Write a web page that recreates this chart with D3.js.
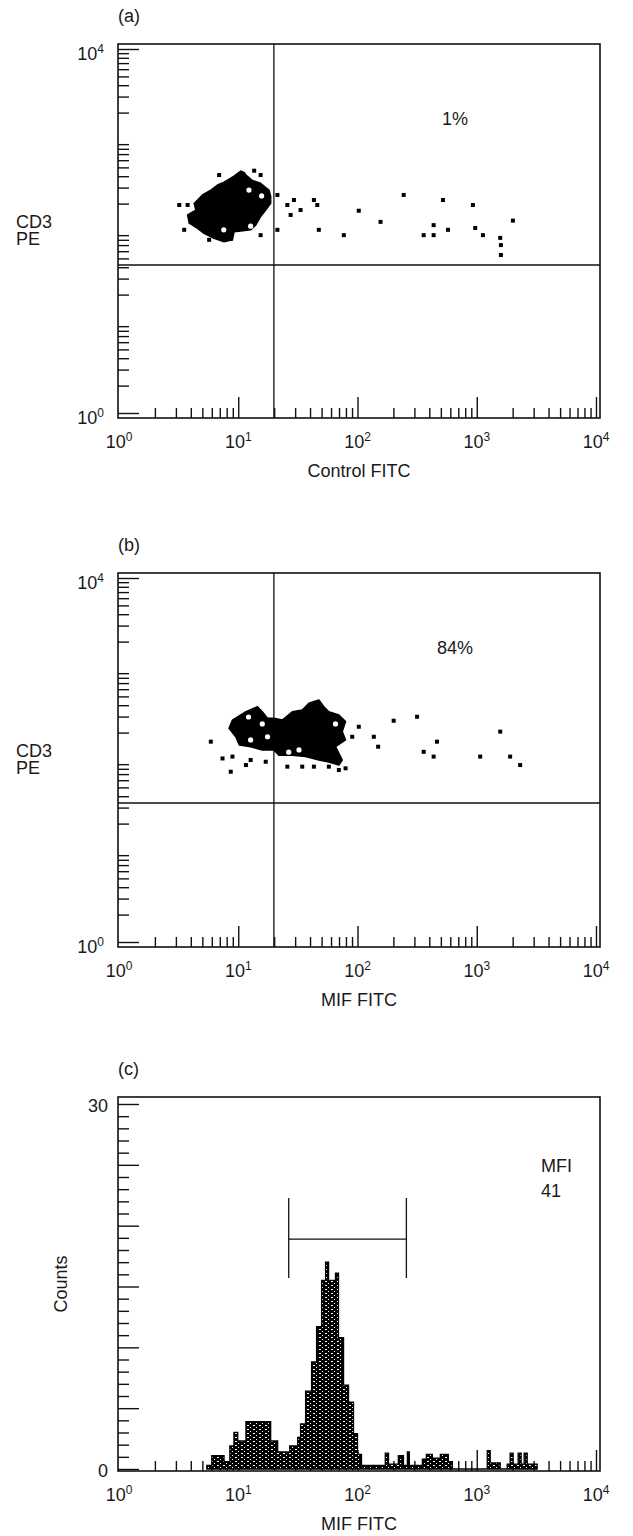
<!DOCTYPE html>
<html>
<head>
<meta charset="utf-8">
<script src="https://cdn.jsdelivr.net/npm/d3@7"></script>
<style>
body { margin: 0; background: #fff; }
text { font-family: "Liberation Sans", Arial, sans-serif; fill: #1a1a1a; }
</style>
</head>
<body>
<svg id="chart" width="633" height="1536"></svg>
<script>
// decades of the log fluorescence axes
const decades = [1, 10, 100, 1000, 10000];
const exponents = ["0", "1", "2", "3", "4"];
const countLabels = [0, 30];

// quadrant markers
const quadX = 19.9;
const quadYA = 42.3;
const quadYB = 33.7;
const pctA = "1%";
const pctB = "84%";

// (a) dense cluster outline [FITC, PE], holes and single events
const blobA = [[6.70,320],[7.60,345],[8.12,363],[9.22,400],[10.5,455],[11.2,440],[11.6,412],[13.1,360],[15.4,335],[17.0,300],[18.1,282],[18.7,240],[18.7,201],[17.0,170],[15.4,144],[14.0,116],[12.7,103],[10.5,100],[9.22,98],[8.94,80],[7.60,76],[6.27,83],[5.17,94],[4.56,107],[3.88,122],[3.76,150],[4.41,170],[4.27,201],[4.80,235],[5.01,249],[5.89,282]];
const holesA = [[12.3,282],[15.7,243],[7.56,103],[12.7,113],[16.7,139]];
const dotsA = [[3.20,193],[3.76,193],[3.52,103],[6.91,412],[13.6,460],[15.4,412],[5.70,80],[8.65,82],[15.4,90],[21.3,249],[21.3,103],[25.8,193],[27.5,150],[29.3,219],[33.3,170],[43.1,219],[46.0,193],[47.4,103],[76.8,90],[102.5,167],[156,126],[244,249],[359,90],[435,116],[435,90],[521,219],[574,103],[929,193],[971,108],[1127,90],[1573,84],[1594,70],[1594,54.5],[2010,130]];

// (b)
const blobB = [[8.94,275],[11.6,339],[14.5,385],[15.9,339],[17.6,287],[19.9,287],[23.4,275],[28.4,339],[34.4,354],[39.1,420],[47.4,456],[52.2,385],[57.5,339],[69.8,312],[79.4,264],[74.5,205],[79.4,166],[65.4,140],[74.5,100],[69.8,88],[57.5,95],[47.4,100],[36.7,109],[28.4,113],[21.9,113],[19.9,129],[15.9,129],[12.7,140],[10.2,146],[9.53,180],[8.37,223]];
const holesB = [[12.7,166],[15.9,249],[17.6,180],[32.3,129],[12.2,297],[65.4,249],[26.5,122],[10.5,129]];
const dotsB = [[5.89,159],[8.65,74.3],[7.38,104],[8.94,109],[11.6,88],[12.7,100],[17.0,95.7],[25.8,84.5],[34.4,84.5],[43.1,84.5],[57.5,84.5],[69.8,77.6],[79.4,81],[102.5,232],[90.3,180],[137,180],[149,140],[201,270],[316,299],[359,123],[435,109],[464,159],[1069,109],[1573,205],[1905,109],[2311,88]];

// (c) histogram: channel where each step starts, and its count
const histStart = [5.45,6.0,7.6,8.5,9.2,9.9,11.6,18.7,21.4,27.0,31.5,33.3,36.7,41.2,45.4,50.0,54.0,57.2,65.4,69.3,76.4,84.1,92.6,100,108,171,182,220,243,262,272,350,378,424,495,578,624,1225,1297,1573,1800,1905,2020,2225,2356,2497,2650,3208];
const histCount = [0.3,1.1,0.6,1.9,3.0,2.3,3.9,2.3,1.4,1.9,2.6,3.7,6.4,8.8,11.7,15.5,17.0,15.5,16.1,10.8,6.9,5.5,2.9,1.2,0.3,1.3,0.4,1.1,0.3,1.4,0.3,0.8,1.2,0.9,1.2,0.6,0,1.5,0.5,0,0.4,1.3,0.4,1.3,0.4,1.3,0.4,0];
const gate = [26.5, 257];
const gateCount = 18.9;
const mfi = 41;

const svg = d3.select("#chart");
const left = 118, right = 600, plotH = 374;
const fs = 18;

// stipple fill for the histogram
const pat = svg.append("defs").append("pattern")
    .attr("id", "stipple").attr("patternUnits", "userSpaceOnUse")
    .attr("width", 6).attr("height", 4);
pat.append("rect").attr("width", 6).attr("height", 4).attr("fill", "#000");
pat.append("rect").attr("x", 1).attr("y", 1).attr("width", 2).attr("height", 1).attr("fill", "#fff");
pat.append("rect").attr("x", 4).attr("y", 3).attr("width", 1).attr("height", 1).attr("fill", "#fff");

function powLabel(sel, exp) {
    sel.append("tspan").text("10");
    sel.append("tspan").attr("dy", -7).attr("font-size", 12).text(exp);
}

function tickAxis(g, axis, tx, ty) {
    g.append("g")
        .attr("transform", `translate(${tx},${ty})`)
        .call(axis)
        .call(s => s.select(".domain").remove())
        .call(s => s.selectAll("line").attr("stroke", "#111").attr("stroke-width", 1.4));
}

function frame(g, top, name, xTitle) {
    const bottom = top + plotH;
    const x = d3.scaleLog().domain([1, 1e4]).range([119, 596]);
    g.append("text").attr("x", left).attr("y", top - 22).attr("font-size", fs).text(name);

    const minorX = x.ticks().filter(v => !decades.includes(v));
    tickAxis(g, d3.axisTop(x).tickValues(minorX).tickSize(10).tickFormat(""), 0, bottom);
    tickAxis(g, d3.axisTop(x).tickValues(decades.slice(1)).tickSize(21).tickFormat(""), 0, bottom);

    decades.forEach((d, i) => {
        g.append("text").attr("x", x(d)).attr("y", bottom + 30)
            .attr("text-anchor", "middle").attr("font-size", fs)
            .call(powLabel, exponents[i]);
    });
    g.append("text").attr("x", (left + right) / 2).attr("y", bottom + 59)
        .attr("text-anchor", "middle").attr("font-size", fs).text(xTitle);
    return {x, bottom};
}

function border(g, top) {
    g.append("rect").attr("x", left).attr("y", top)
        .attr("width", right - left).attr("height", plotH)
        .attr("fill", "none").attr("stroke", "#111").attr("stroke-width", 1.6);
}

function dotPlot(top, name, xTitle, blob, holes, dots, qy, pct) {
    const g = svg.append("g");
    const {x, bottom} = frame(g, top, name, xTitle);
    const y = d3.scaleLog().domain([1, 1e4]).range([bottom - 5, top + 5]);

    const minorY = y.ticks().filter(v => !decades.includes(v));
    tickAxis(g, d3.axisRight(y).tickValues(minorY).tickSize(11).tickFormat(""), left, 0);
    tickAxis(g, d3.axisRight(y).tickValues([1, 1e4]).tickSize(21).tickFormat(""), left, 0);

    g.append("text").attr("x", 104).attr("y", top + 16)
        .attr("text-anchor", "end").attr("font-size", fs).call(powLabel, exponents[4]);
    g.append("text").attr("x", 104).attr("y", bottom + 6)
        .attr("text-anchor", "end").attr("font-size", fs).call(powLabel, exponents[0]);
    g.append("text").attr("x", 16).attr("y", top + 184).attr("font-size", fs).text("CD3");
    g.append("text").attr("x", 16).attr("y", top + 201).attr("font-size", fs).text("PE");

    // quadrant lines
    g.append("line").attr("x1", x(quadX)).attr("x2", x(quadX))
        .attr("y1", top).attr("y2", bottom).attr("stroke", "#111").attr("stroke-width", 1.3);
    g.append("line").attr("x1", left).attr("x2", right)
        .attr("y1", y(qy)).attr("y2", y(qy)).attr("stroke", "#111").attr("stroke-width", 1.3);

    const line = d3.line().x(d => x(d[0])).y(d => y(d[1])).curve(d3.curveLinearClosed);
    g.append("path").attr("d", line(blob)).attr("fill", "#000")
        .attr("stroke", "#000").attr("stroke-width", 1.5).attr("stroke-linejoin", "round");
    g.selectAll("circle.hole").data(holes).join("circle")
        .attr("class", "hole")
        .attr("cx", d => x(d[0])).attr("cy", d => y(d[1])).attr("r", 2.6).attr("fill", "#fff");
    g.selectAll("rect.dot").data(dots).join("rect")
        .attr("class", "dot")
        .attr("x", d => x(d[0]) - 2).attr("y", d => y(d[1]) - 2)
        .attr("width", 4).attr("height", 4).attr("fill", "#000");

    g.append("text").attr("x", 455).attr("y", top + 81)
        .attr("text-anchor", "middle").attr("font-size", fs).text(pct);
    border(g, top);
}

dotPlot(44, "(a)", "Control FITC", blobA, holesA, dotsA, quadYA, pctA);
dotPlot(573, "(b)", "MIF FITC", blobB, holesB, dotsB, quadYB, pctB);

// (c) histogram
(function () {
    const top = 1097;
    const g = svg.append("g");
    const {x, bottom} = frame(g, top, "(c)", "MIF FITC");
    const y = d3.scaleLinear().domain([0, 30]).range([bottom - 2, top + 7]);

    const minorY = d3.range(1, 30).filter(v => v % 5 !== 0);
    tickAxis(g, d3.axisRight(y).tickValues(minorY).tickSize(11).tickFormat(""), left, 0);
    tickAxis(g, d3.axisRight(y).tickValues([0, 5, 10, 15, 20, 25, 30]).tickSize(21).tickFormat(""), left, 0);

    g.append("text").attr("x", 108).attr("y", top + 15)
        .attr("text-anchor", "end").attr("font-size", fs).text(countLabels[1]);
    g.append("text").attr("x", 108).attr("y", bottom + 6)
        .attr("text-anchor", "end").attr("font-size", fs).text(countLabels[0]);
    g.append("text").attr("transform", `translate(67,${(top + bottom) / 2})rotate(-90)`)
        .attr("text-anchor", "middle").attr("font-size", fs).text("Counts");

    const hist = histStart.map((v, i) => ({v, c: histCount[i]}));
    const area = d3.area().x(d => x(d.v)).y0(y(0)).y1(d => y(d.c)).curve(d3.curveStepAfter);
    g.append("path").attr("d", area(hist))
        .attr("fill", "url(#stipple)").attr("stroke", "#000").attr("stroke-width", 1.3);

    // gate bracket
    const gy = y(gateCount);
    g.append("path")
        .attr("d", `M${x(gate[0])},${gy - 41}V${gy + 39}M${x(gate[0])},${gy}H${x(gate[1])}M${x(gate[1])},${gy - 41}V${gy + 39}`)
        .attr("fill", "none").attr("stroke", "#111").attr("stroke-width", 1.3);

    g.append("text").attr("x", 541).attr("y", top + 75).attr("font-size", fs).text("MFI");
    g.append("text").attr("x", 541).attr("y", top + 100).attr("font-size", fs).text(mfi);
    border(g, top);
})();
</script>
</body>
</html>
